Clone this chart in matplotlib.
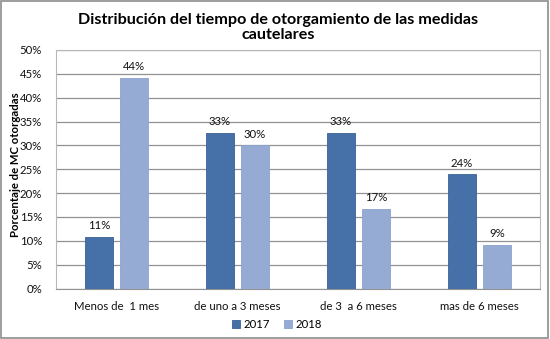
import matplotlib
matplotlib.use('Agg')
import matplotlib.pyplot as plt
import numpy as np
from matplotlib.ticker import PercentFormatter

plt.rcParams['font.family'] = ['Lato', 'DejaVu Sans']

categories = ['Menos de  1 mes', 'de uno a 3 meses', 'de 3  a 6 meses', 'mas de 6 meses']
years = ['2017', '2018']
vals_2017 = [10.8, 32.7, 32.7, 23.9]
vals_2018 = [44.2, 30.0, 16.7, 9.2]

C17 = '#4670a8'
C18 = '#95abd4'

fig = plt.figure(figsize=(5.5, 3.39), dpi=100)
ax = fig.add_axes([56 / 550, 50.5 / 339, 484 / 550, 238.5 / 339])

x = np.arange(len(categories))
w = 0.23
off = 0.145
b1 = ax.bar(x - off, vals_2017, w, color=C17, edgecolor='#3a6196', lw=0.6, label=years[0], zorder=3)
b2 = ax.bar(x + off, vals_2018, w, color=C18, edgecolor='#8aa2cf', lw=0.6, label=years[1], zorder=3)

for bars in (b1, b2):
    for r in bars:
        h = r.get_height()
        ax.text(r.get_x() + r.get_width() / 2, h + 1.2, f'{h:.0f}%',
                ha='center', va='bottom', fontsize=8.2, color='#111111')

ax.set_xlim(-0.5, len(categories) - 0.5)
ax.set_ylim(0, 50)
ax.set_yticks(np.arange(0, 51, 5))
ax.yaxis.set_major_formatter(PercentFormatter(decimals=0))
ax.set_xticks(x)
ax.set_xticklabels(categories)
ax.tick_params(axis='both', length=0, labelsize=8.2, colors='#111111')
ax.tick_params(axis='x', pad=9)
ax.tick_params(axis='y', pad=10)
ax.grid(axis='y', color='#929292', lw=0.9, zorder=0)
for s in ax.spines.values():
    s.set_color('#b8b8b8')
    s.set_linewidth(0.8)
ax.spines['bottom'].set_color('#929292')

ax.set_ylabel('Porcentaje de MC otorgadas', fontsize=8.2, fontweight='bold')
ax.yaxis.set_label_coords(-35 / 484, 0.518)
fig.suptitle('Distribución del tiempo de otorgamiento de las medidas\ncautelares',
             x=0.505, y=0.962, fontsize=11.6, fontweight='bold', linespacing=1.08)

ax.legend(loc='upper center', bbox_to_anchor=(221 / 484, -0.11), ncol=2, frameon=False,
          fontsize=8.2, handlelength=0.7, handleheight=0.7, handletextpad=0.3,
          columnspacing=1.2, borderaxespad=0)

fig.patches.append(plt.Rectangle((0.002, 0.003), 0.994, 0.994, transform=fig.transFigure,
                                 fill=False, edgecolor='#8c8c8c', lw=1.2))

fig.savefig('out.png', dpi=100)
